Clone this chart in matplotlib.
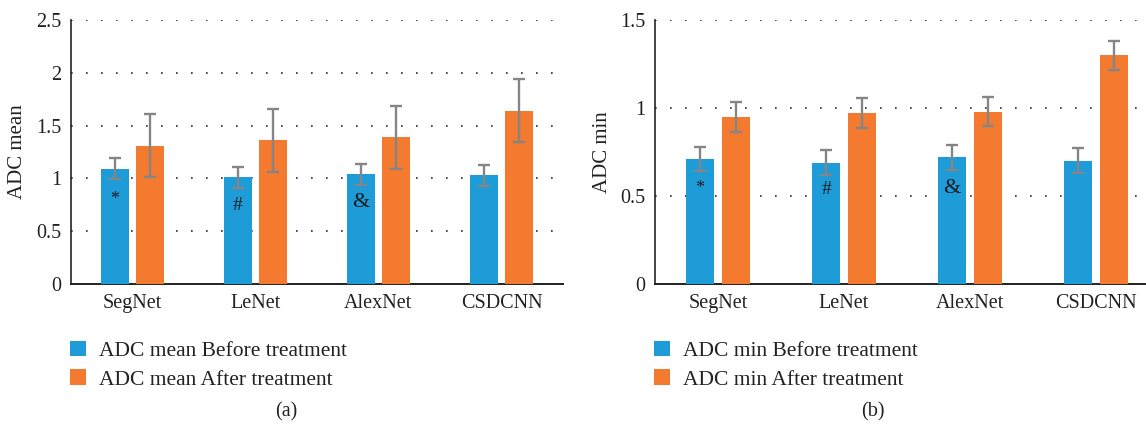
import matplotlib
matplotlib.use("Agg")
import matplotlib.pyplot as plt
import numpy as np
from matplotlib.patches import Patch

plt.rcParams['font.family'] = ['Liberation Serif', 'DejaVu Serif']

categories = ["SegNet", "LeNet", "AlexNet", "CSDCNN"]

mean_before = [1.09, 1.01, 1.04, 1.03]
mean_before_err = [0.10, 0.10, 0.10, 0.10]
mean_after = [1.31, 1.36, 1.39, 1.64]
mean_after_err = [0.30, 0.30, 0.30, 0.30]

min_before = [0.71, 0.69, 0.72, 0.70]
min_before_err = [0.07, 0.07, 0.07, 0.07]
min_after = [0.95, 0.97, 0.98, 1.30]
min_after_err = [0.085, 0.085, 0.085, 0.083]

mean_ticks = [0, 0.5, 1, 1.5, 2, 2.5]
mean_ticklabels = ["0", "0.5", "1", "1.5", "2", "2.5"]
min_ticks = [0, 0.5, 1, 1.5]
min_ticklabels = ["0", "0.5", "1", "1.5"]

mean_marks = ["*", "#", "&"]
mean_mark_y = [0.80, 0.745, 0.775]
min_marks = ["*", "#", "&"]
min_mark_y = [0.545, 0.535, 0.545]

BLUE = "#1E9CD7"
ORANGE = "#F37A2F"
GRAY = "#858585"

W, H = 1146, 428
fig = plt.figure(figsize=(W / 100, H / 100), dpi=100)

def px_axes(x0, x1, ytop, ybot):
    return fig.add_axes([x0 / W, (H - ybot) / H, (x1 - x0) / W, (ybot - ytop) / H])

axL = px_axes(70.7, 563, 20, 284)
axR = px_axes(655, 1159, 20, 284)

def draw(ax, before, berr, after, aerr, ticks, ticklabels, ylabel, marks, mark_y):
    x = np.arange(len(categories))
    w = 0.228
    off = 0.142
    ekw = dict(ecolor=GRAY, elinewidth=1.7, capsize=4.5, capthick=1.7)
    ax.bar(x - off, before, w, color=BLUE, yerr=berr, error_kw=ekw, zorder=3)
    ax.bar(x + off, after, w, color=ORANGE, yerr=aerr, error_kw=ekw, zorder=3)
    ax.set_xlim(-0.5, len(categories) - 0.5)
    ax.set_ylim(0, ticks[-1])
    ax.set_yticks(ticks)
    ax.set_yticklabels(ticklabels, fontsize=14.5)
    ax.set_xticks(x)
    ax.set_xticklabels(categories, fontsize=14.5)
    ax.tick_params(axis='both', length=0, pad=7, colors='#222222')
    ax.set_ylabel(ylabel, fontsize=15, color='#222222', labelpad=6)
    ax.yaxis.grid(True, linestyle=(0, (1, 8)), color='#2a2a2a', linewidth=1.2, zorder=0)
    ax.set_axisbelow(True)
    for s in ['top', 'right']:
        ax.spines[s].set_visible(False)
    ax.spines['left'].set_color('#222222')
    ax.spines['bottom'].set_color('#222222')
    ax.spines['left'].set_linewidth(1.2)
    ax.spines['bottom'].set_linewidth(1.4)
    for i, (m, yy) in enumerate(zip(marks, mark_y)):
        fs = {"&": 16, "#": 14, "*": 13}[m]
        ax.text(x[i] - off, yy, m, ha='center', va='center', fontsize=fs,
                color='#1a1a1a', zorder=5)

draw(axL, mean_before, mean_before_err, mean_after, mean_after_err,
     mean_ticks, mean_ticklabels, "ADC mean", mean_marks, mean_mark_y)
draw(axR, min_before, min_before_err, min_after, min_after_err,
     min_ticks, min_ticklabels, "ADC min", min_marks, min_mark_y)

def add_legend(x_px, labels):
    handles = [Patch(facecolor=BLUE, edgecolor='none'), Patch(facecolor=ORANGE, edgecolor='none')]
    fig.legend(handles, labels, loc='upper left', bbox_to_anchor=(x_px / W, (H - 341) / H),
               frameon=False, fontsize=15.5, handlelength=0.72, handleheight=0.72,
               handletextpad=0.62, labelspacing=0.38, borderaxespad=0, borderpad=0,
               labelcolor='#222222')

add_legend(70, ["ADC mean Before treatment", "ADC mean After treatment"])
add_legend(654, ["ADC min Before treatment", "ADC min After treatment"])

fig.text(286 / W, (H - 412) / H, "(a)", ha='center', va='center', fontsize=14.5, color='#222222')
fig.text(873 / W, (H - 412) / H, "(b)", ha='center', va='center', fontsize=14.5, color='#222222')

fig.savefig("out.png", dpi=100)
